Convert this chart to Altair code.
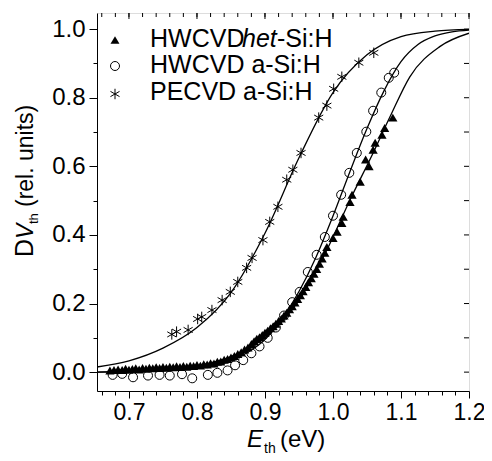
import altair as alt
import pandas as pd

# ---------------- data ----------------
# PECVD a-Si:H (asterisks)
pe_E = [0.763, 0.770, 0.787, 0.801, 0.807, 0.822, 0.837, 0.849, 0.860, 0.873,
        0.881, 0.897, 0.907, 0.919, 0.932, 0.941, 0.953, 0.979, 0.991, 1.001,
        1.013, 1.038, 1.060]
pe_D = [0.110, 0.118, 0.123, 0.155, 0.161, 0.181, 0.210, 0.234, 0.263, 0.304,
        0.333, 0.385, 0.438, 0.482, 0.561, 0.590, 0.639, 0.742, 0.777, 0.826,
        0.861, 0.902, 0.931]

# HWCVD a-Si:H (open circles)
as_E = [0.676, 0.690, 0.706, 0.728, 0.745, 0.760, 0.778, 0.793, 0.816, 0.830,
        0.845, 0.856, 0.868, 0.880, 0.892, 0.904, 0.916, 0.928, 0.940, 0.951,
        0.963, 0.976, 0.988, 1.000, 1.012, 1.024, 1.035, 1.049, 1.059, 1.071,
        1.082, 1.090]
as_D = [-0.008, -0.005, -0.015, -0.010, -0.008, -0.010, -0.006, -0.018, -0.008, -0.002,
        0.005, 0.020, 0.035, 0.055, 0.075, 0.100, 0.130, 0.165, 0.204, 0.234,
        0.292, 0.342, 0.394, 0.456, 0.517, 0.581, 0.639, 0.701, 0.762, 0.815,
        0.858, 0.873]

# HWCVD het-Si:H (filled triangles)
het_E = [0.672, 0.678, 0.684, 0.690, 0.695, 0.700, 0.705, 0.710, 0.715, 0.720,
         0.725, 0.730, 0.735, 0.740, 0.745, 0.750, 0.755, 0.760, 0.765, 0.770,
         0.775, 0.780, 0.785, 0.790, 0.795, 0.800, 0.805, 0.810, 0.815, 0.820,
         0.825, 0.830, 0.835, 0.840, 0.845, 0.850, 0.855, 0.860, 0.865, 0.870,
         0.875, 0.880, 0.884, 0.888, 0.892, 0.896, 0.900, 0.904, 0.908, 0.912,
         0.916, 0.920, 0.924, 0.928, 0.932, 0.936, 0.940, 0.944, 0.948, 0.952,
         0.956, 0.960, 0.964, 0.968, 0.972, 0.976, 0.980, 0.984, 0.988, 0.991,
         1.000, 1.006, 1.013, 1.015, 1.025, 1.028, 1.040, 1.048, 1.053, 1.059,
         1.062, 1.072, 1.076, 1.088]
het_D = [0.005, 0.006, 0.008, 0.006, 0.010, 0.007, 0.009, 0.011, 0.008, 0.012,
         0.010, 0.013, 0.011, 0.014, 0.012, 0.015, 0.013, 0.016, 0.014, 0.017,
         0.015, 0.018, 0.016, 0.019, 0.018, 0.021, 0.019, 0.023, 0.022, 0.026,
         0.025, 0.030, 0.031, 0.036, 0.038, 0.043, 0.047, 0.053, 0.058, 0.066,
         0.072, 0.082, 0.090, 0.097, 0.102, 0.108, 0.115, 0.121, 0.128, 0.134,
         0.141, 0.149, 0.156, 0.165, 0.173, 0.183, 0.192, 0.203, 0.213, 0.224,
         0.236, 0.248, 0.262, 0.274, 0.287, 0.301, 0.316, 0.331, 0.348, 0.365,
         0.391, 0.409, 0.435, 0.453, 0.496, 0.517, 0.555, 0.620, 0.600, 0.648,
         0.669, 0.692, 0.712, 0.742]

# fitted curves
pe_fit_E = [0.653, 0.70, 0.75, 0.80, 0.85, 0.90, 0.95, 1.00, 1.05, 1.10, 1.15, 1.20]
pe_fit_D = [0.015, 0.033, 0.070, 0.130, 0.232, 0.405, 0.625, 0.815, 0.925, 0.978, 0.994, 0.999]

as_fit_E = [0.653, 0.70, 0.75, 0.80, 0.85, 0.875, 0.90, 0.925, 0.95, 0.975, 1.00,
            1.025, 1.05, 1.075, 1.10, 1.125, 1.15, 1.175, 1.20]
as_fit_D = [0.0, 0.001, 0.004, 0.011, 0.033, 0.058, 0.095, 0.155, 0.235, 0.335, 0.455,
            0.585, 0.71, 0.82, 0.905, 0.955, 0.98, 0.992, 0.997]

het_fit_E = [0.653, 0.70, 0.75, 0.80, 0.85, 0.90, 0.95, 0.991, 1.025, 1.059, 1.084,
             1.113, 1.157, 1.20]
het_fit_D = [0.0, 0.003, 0.007, 0.018, 0.045, 0.10, 0.21, 0.356, 0.502, 0.639, 0.745,
             0.861, 0.949, 0.988]

# axis ticks
x_ticks = [0.66, 0.68, 0.70, 0.72, 0.74, 0.76, 0.78, 0.80, 0.82, 0.84, 0.86, 0.88,
           0.90, 0.92, 0.94, 0.96, 0.98, 1.00, 1.02, 1.04, 1.06, 1.08, 1.10, 1.12,
           1.14, 1.16, 1.18, 1.20]
x_major = [0.7, 0.8, 0.9, 1.0, 1.1, 1.2]
y_ticks = [0.0, 0.1, 0.2, 0.3, 0.4, 0.5, 0.6, 0.7, 0.8, 0.9, 1.0]

legend_labels = ["HWCVD", "het", "-Si:H", "HWCVD a-Si:H", "PECVD a-Si:H"]
x_title = ["E", "th", "(eV)"]
y_title = ["D", "V", "th", "(rel. units)"]

FONT = "Liberation Sans"
W, H = 372, 378
xs = alt.Scale(domain=[0.653, 1.2], nice=False, zero=False)
ys = alt.Scale(domain=[-0.055, 1.047], nice=False, zero=False)

x_axis = alt.Axis(
    values=x_ticks, title=None, grid=False,
    labelExpr="abs(round(datum.value*100)) % 10 == 0 ? format(datum.value, '.1f') : ''",
    tickSize={"condition": {"test": "abs(round(datum.value*100)) % 10 == 0", "value": 7}, "value": 4},
    labelFont=FONT, labelFontSize=23, labelColor="black", tickColor="black",
    domainColor="black", labelPadding=3, labelOverlap=False, labelFlush=False,
)
y_axis = alt.Axis(
    values=y_ticks, title=None, grid=False,
    labelExpr="abs(round(datum.value*10)) % 2 == 0 ? format(datum.value, '.1f') : ''",
    tickSize={"condition": {"test": "abs(round(datum.value*10)) % 2 == 0", "value": 8}, "value": 4},
    labelFont=FONT, labelFontSize=24, labelColor="black", tickColor="black",
    domainColor="black", labelPadding=4, labelOverlap=False, labelFlush=False,
)

def X(): return alt.X("E:Q", scale=xs, axis=x_axis)
def Y(): return alt.Y("D:Q", scale=ys, axis=y_axis)

het_df = pd.DataFrame({"E": het_E, "D": het_D})
as_df = pd.DataFrame({"E": as_E, "D": as_D})
pe_df = pd.DataFrame({"E": pe_E, "D": pe_D})

STAR = "M0,-1L0,1M-0.866,-0.5L0.866,0.5M-0.866,0.5L0.866,-0.5"

def fit_line(E, D):
    return alt.Chart(pd.DataFrame({"E": E, "D": D})).mark_line(
        color="black", strokeWidth=1.3, interpolate="monotone", clip=True
    ).encode(x=X(), y=Y())

lines = [fit_line(pe_fit_E, pe_fit_D), fit_line(as_fit_E, as_fit_D), fit_line(het_fit_E, het_fit_D)]

tri = alt.Chart(het_df).mark_point(shape="triangle-up", filled=True, size=85,
                                   color="black", opacity=1).encode(x=X(), y=Y())
circ = alt.Chart(as_df).mark_point(shape="circle", filled=False, size=81,
                                   stroke="black", strokeWidth=1, opacity=1).encode(x=X(), y=Y())
star = alt.Chart(pe_df).mark_point(shape=STAR, filled=False, size=110,
                                   stroke="black", strokeWidth=1, opacity=1).encode(x=X(), y=Y())

# top / right mirror ticks
xt_df = pd.DataFrame({"E": x_ticks})
xm_df = pd.DataFrame({"E": x_major})
yt_df = pd.DataFrame({"D": y_ticks})
top_minor = alt.Chart(xt_df).mark_rule(color="black", strokeWidth=1).encode(
    x=X(), y=alt.value(0), y2=alt.value(4))
top_major = alt.Chart(xm_df).mark_rule(color="black", strokeWidth=1).encode(
    x=X(), y=alt.value(0), y2=alt.value(6))
right_t = alt.Chart(yt_df).mark_rule(color="black", strokeWidth=1).encode(
    y=Y(), x=alt.value(W - 5), x2=alt.value(W))

def txt(s, x, y, size=24, style="normal", angle=0):
    return alt.Chart(pd.DataFrame({"a": [0]})).mark_text(
        text=s, font=FONT, fontSize=size, fontStyle=style, align="left",
        baseline="alphabetic", color="black", angle=angle
    ).encode(x=alt.value(x), y=alt.value(y))

def sym(shape, x, y, filled, size):
    return alt.Chart(pd.DataFrame({"a": [0]})).mark_point(
        shape=shape, filled=filled, size=size, color="black", strokeWidth=1, opacity=1
    ).encode(x=alt.value(x), y=alt.value(y))

LF = 25
legend = [
    sym("triangle-up", 18, 27, True, 80),
    sym("circle", 18, 53, False, 81),
    sym(STAR, 18, 81, False, 110),
    txt(legend_labels[0], 53, 34, LF),
    txt(legend_labels[1], 145, 34, LF, "italic"),
    txt(legend_labels[2], 180, 34, LF),
    txt(legend_labels[3], 53, 60, LF),
    txt(legend_labels[4], 53, 87, LF),
]

titles = [
    txt(x_title[0], 150, 434, 24, "italic"),
    txt(x_title[1], 167, 440, 14),
    txt(x_title[2], 183, 434, 24),
    txt(y_title[0], -64, 244, 25, "normal", 270),
    txt(y_title[1], -64, 226, 23, "italic", 270),
    txt(y_title[2], -59, 211, 13, "normal", 270),
    txt(y_title[3], -64, 194, 23, "normal", 270),
]

chart = alt.layer(
    *lines, tri, circ, star, top_minor, top_major, right_t, *legend, *titles
).properties(
    width=W, height=H,
    autosize=alt.AutoSizeParams(type="none"),
    padding={"left": 89, "top": 5, "right": 15, "bottom": 68},
).configure_view(stroke="black", strokeWidth=1).configure(background="white")

chart.save("out.html", embed_options={"renderer": "svg", "actions": False})
